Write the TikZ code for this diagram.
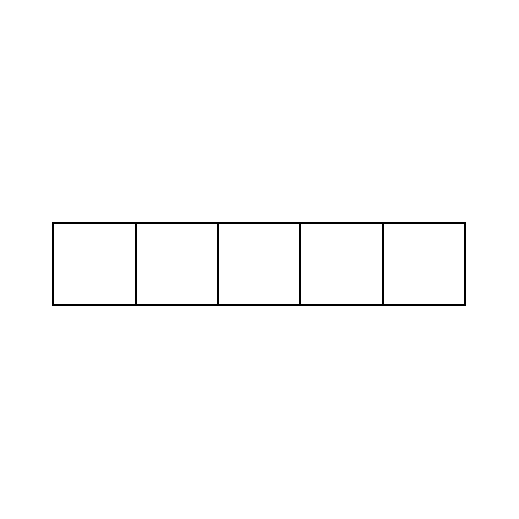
\documentclass[tikz,border=0pt]{standalone}
\usepackage{tikz}
\usetikzlibrary{positioning}

\begin{document}
\begin{tikzpicture}[cell/.style={draw, line width=1pt, minimum size=1.5cm, inner sep=0pt, outer sep=0pt}]
    \useasboundingbox (-0.972,-4.638) rectangle (8.487,4.809);
    % 5つのマス
    \foreach \i in {0,1,2,3,4} {
        \node[cell] (c\i) at (\i*1.5+0.75,0) {};
    }
\end{tikzpicture}
\end{document}
